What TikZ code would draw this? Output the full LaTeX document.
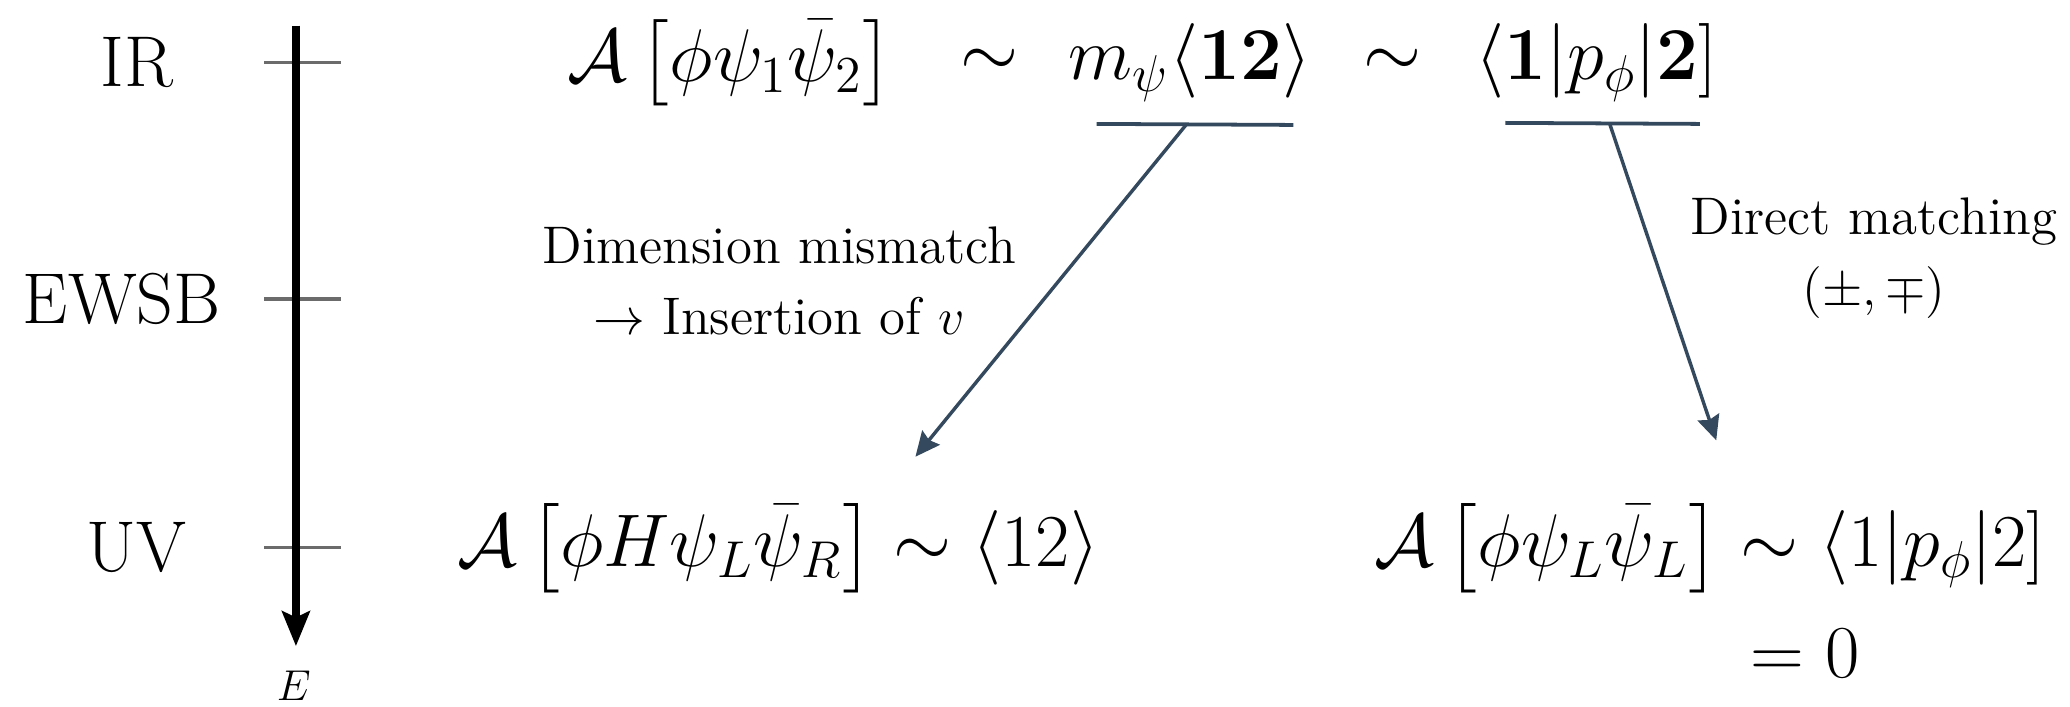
\documentclass[tikz,border=0pt]{standalone}
\usepackage{amsmath}
\usepackage{amsfonts}
\usetikzlibrary{arrows.meta,positioning,calc}

\definecolor{slate}{HTML}{34495E}

\begin{document}
\begin{tikzpicture}[
    level/.style={font=\fontsize{20}{24}\selectfont},
    formula/.style={font=\fontsize{20}{24}\selectfont},
    uvformula/.style={font=\fontsize{20.74}{25}\selectfont},
    note/.style={align=center, font=\fontsize{14.7}{19.8}\selectfont},
    axis/.style={-{Stealth[length=3.4mm, width=2.7mm, inset=0.6mm]}, line width=2pt},
    scaletick/.style={draw=black!58, line width=0.9pt},
    uline/.style={draw=slate, line width=1.05pt},
    edge/.style={-{Stealth[length=2.4mm, width=2.2mm, inset=0.3mm]}, draw=slate, line width=0.95pt},
]
\useasboundingbox (0,0) rectangle (20.215,-6.895);

% Energy scale
\foreach \name/\x/\y/\lab in {ir/1.34/-0.61/IR, ewsb/1.19/-2.92/EWSB, uv/1.33/-5.35/UV} {
  \node[level] (\name) at (\x,\y) {\lab};
  \draw[scaletick] (2.58,\y) -- (3.33,\y);
}
\coordinate (top) at (2.89,-0.25);
\coordinate (tip) at (2.89,-6.31);
\draw[axis] (top) -- (tip);
\node[font=\fontsize{13}{15}\selectfont] (E) at (2.87,-6.70) {$E$};

% IR amplitude
\node[formula] (ampIR) at (7.13,-0.61) {$\mathcal{A}\left[\phi\psi_1\bar{\psi}_2\right]$};
\node[formula] (sim1) at (9.66,-0.61) {$\sim$};
\node[formula] (mass) at (11.62,-0.61) {$m_\psi\langle\mathbf{12}\rangle$};
\node[formula] (sim2) at (13.60,-0.61) {$\sim$};
\node[formula] (chiral) at (15.59,-0.61) {$\langle\mathbf{1}|p_\phi|\mathbf{2}]$};

% UV amplitudes
\node[uvformula] (ampUVa) at (7.60,-5.35) {$\mathcal{A}\left[\phi H\psi_L\bar{\psi}_R\right] \sim \langle 12\rangle$};
\node[uvformula] (ampUVb) at (16.70,-5.35) {$\mathcal{A}\left[\phi\psi_L\bar{\psi}_L\right] \sim \langle 1|p_\phi|2]$};
\node[uvformula] (zero) at (17.63,-6.38) {$=0$};

% Underlines
\coordinate (u1l) at (10.71,-1.21);
\coordinate (u1r) at (12.63,-1.22);
\coordinate (u1m) at (11.59,-1.21);
\coordinate (u2l) at (14.70,-1.20);
\coordinate (u2r) at (16.60,-1.21);
\coordinate (u2m) at (15.72,-1.21);
\draw[uline] (u1l) -- (u1r);
\draw[uline] (u2l) -- (u2r);

% Matching arrows
\coordinate (d1) at (8.94,-4.46);
\coordinate (d2) at (16.76,-4.30);
\draw[edge] (u1m) -- (d1);
\draw[edge] (u2m) -- (d2);

\node[note] (mismatch) at (7.61,-2.74) {Dimension mismatch\\$\to$ Insertion of $v$};
\node[note] (direct) at (18.30,-2.52) {Direct matching\\$(\pm,\mp)$};

\end{tikzpicture}
\end{document}
